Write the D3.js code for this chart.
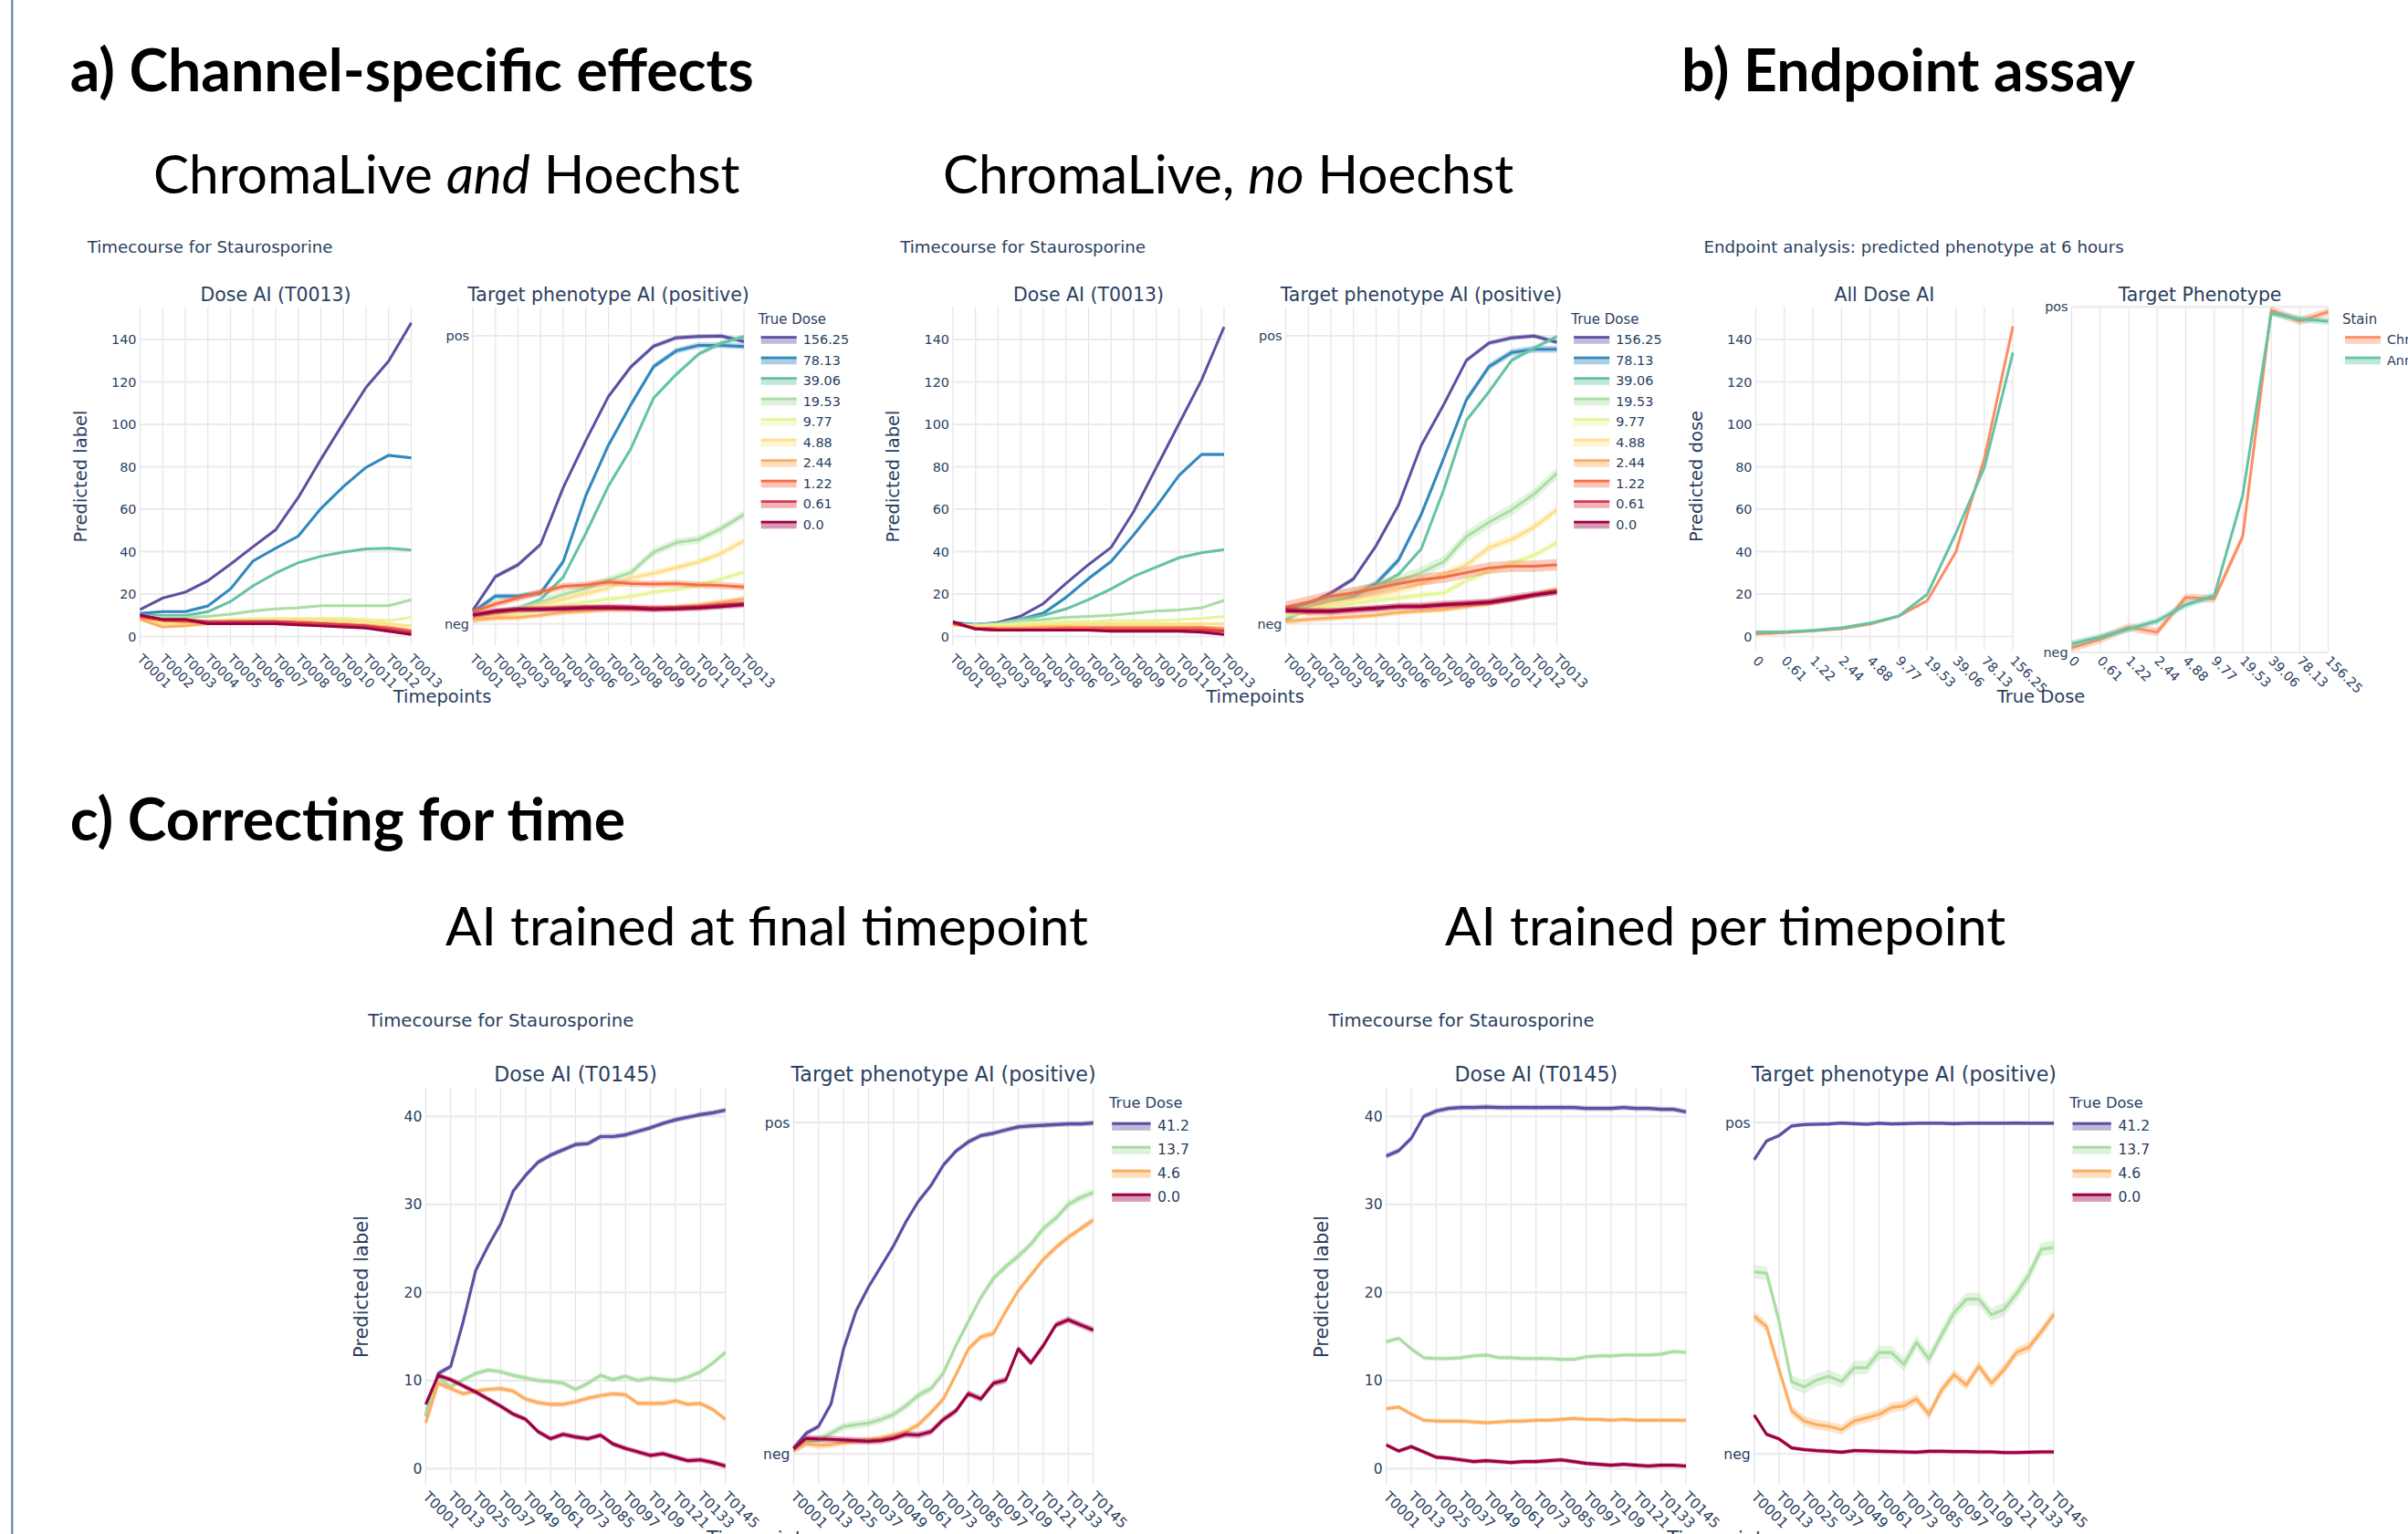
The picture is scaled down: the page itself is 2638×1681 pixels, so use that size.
<!DOCTYPE html>
<meta charset="utf-8">
<style>
  html, body { margin:0; padding:0; background:#fff; overflow:hidden; }
  svg { display:block; }
  .plot text { font-family: "DejaVu Sans", sans-serif; fill:#2a3f5f; }
  .head { font-family: Lato, sans-serif; fill:#000; }
</style>
<svg width="2638" height="1681"></svg>
<script src="https://d3js.org/d3.v7.min.js"></script>
<script>

// ---------- data: panel a (13 timepoints, 10 doses) ----------
var timesA = ["T0001","T0002","T0003","T0004","T0005","T0006","T0007","T0008","T0009","T0010","T0011","T0012","T0013"];
var dosesA = ["156.25","78.13","39.06","19.53","9.77","4.88","2.44","1.22","0.61","0.0"];
var colorsA = ["#5e4fa2","#3288bd","#66c2a5","#abdda4","#e6f598","#fee08b","#fdae61","#f46d43","#d53e4f","#9e0142"];

var a1Dose = [
  [12.7,18.1,20.9,26.3,34.1,42.3,50.3,65.5,83.5,100.7,117.4,129.8,147.8],
  [10.9,11.7,11.7,14.4,22.4,35.6,41.6,47.3,60.3,70.7,79.7,85.4,84.2],
  [9.9,9.9,9.9,11.7,16.5,23.9,29.9,34.8,37.8,39.8,41.3,41.6,40.8],
  [9.5,9,9,9.5,10.5,12,13,13.5,14.5,14.5,14.5,14.5,17.3],
  [9,7,7,7.5,8,8.5,8.5,8.5,8.5,8.5,8,7.5,9],
  [8,6,6,7,7.5,7.5,8,8,8,7.5,7,6,5],
  [8,4.5,5,6,6.5,7,7,7,6.5,6,5.5,4.5,3],
  [9,7.5,7,6.5,7,7,7,6.5,6,5.5,5,4,2.5],
  [10,8,8,7,7,7,7,6.5,6,5.5,5,3.5,2],
  [10,8,8,6,6,6,6,5.5,5,4.5,4,2.5,1]
];
var a1Target = [
  [.047,.164,.205,.276,.473,.636,.789,.893,.964,.993,.998,.999,.98],
  [.041,.096,.096,.107,.216,.445,.62,.762,.893,.948,.967,.967,.963],
  [.014,.041,.052,.085,.162,.314,.478,.609,.784,.866,.937,.975,.997],
  [.014,.036,.052,.074,.102,.123,.151,.178,.249,.282,.293,.331,.38],
  [.014,.025,.035,.05,.065,.075,.085,.095,.11,.12,.135,.155,.18],
  [.014,.03,.045,.065,.085,.105,.125,.16,.175,.195,.215,.245,.288],
  [.015,.02,.022,.03,.04,.045,.05,.05,.052,.058,.065,.075,.087],
  [.041,.069,.09,.11,.13,.135,.145,.14,.138,.14,.135,.133,.128],
  [.03,.04,.05,.052,.055,.058,.06,.058,.055,.055,.058,.065,.07],
  [.03,.045,.05,.05,.052,.055,.055,.054,.05,.052,.055,.06,.066]
];
var a2Dose = [
  [6.6,5.6,6.6,9.6,15.5,25,33.9,42,58.9,79.6,100.2,120.8,145.9],
  [5.9,5.6,5.9,8.1,11,18.4,27.3,35.4,47.9,61.2,75.9,85.8,85.8],
  [5.9,5.6,6.2,8.1,10,13,17.4,22.4,28.3,32.7,37.1,39.5,41],
  [5.5,5.5,6,7.5,8,9,9.5,10,11,12,12.5,13.5,17],
  [5.5,5,5.5,6,6.5,7,7,7.5,7.5,7.5,8,8.5,9.5],
  [5.5,4.5,4.5,5,5.5,5.5,6,6,6,6,6,6,6],
  [6,4,4,4,4.5,4.5,4.5,4.5,4.5,4.5,4.5,4.5,4],
  [6,4,3.5,3.5,3.5,4,4,4,4,4,4,4,3],
  [6.5,3.5,3,3,3,3,3,3,3,3,3,3,2.5],
  [7,3.5,3,3,3,3,3,2.5,2.5,2.5,2.5,2,1]
];
var a2Target = [
  [.014,.069,.107,.156,.271,.413,.62,.762,.915,.975,.993,.999,.978],
  [.052,.066,.08,.096,.14,.222,.38,.576,.778,.893,.942,.953,.953],
  [.014,.052,.074,.107,.129,.172,.26,.467,.707,.806,.915,.958,.997],
  [.036,.063,.085,.107,.129,.151,.178,.216,.303,.353,.396,.451,.522],
  [.03,.045,.06,.07,.08,.09,.1,.107,.15,.183,.21,.238,.282],
  [.035,.05,.07,.085,.1,.117,.139,.172,.205,.265,.293,.336,.396],
  [.009,.015,.02,.025,.03,.04,.045,.05,.06,.07,.085,.1,.12],
  [.058,.076,.096,.107,.123,.14,.153,.162,.178,.194,.2,.2,.205],
  [.052,.041,.041,.047,.052,.061,.063,.069,.072,.076,.091,.102,.112],
  [.045,.045,.045,.05,.055,.06,.06,.065,.07,.075,.085,.1,.11]
];
var ciA1Dose = [0.7,0.7,0.6,0.6,0.6,0.6,0.6,0.6,0.6,0.6];
var ciA1Target = [0.008,0.01,0.008,0.014,0.01,0.012,0.01,0.012,0.01,0.01];
var ciA2Dose = [0.6,0.9,0.6,0.6,0.6,0.6,0.6,0.6,0.6,0.6];
var ciA2Target = [0.008,0.012,0.008,0.02,0.012,0.015,0.01,0.02,0.012,0.01];

// ---------- data: panel b ----------
var dosesB = ["0","0.61","1.22","2.44","4.88","9.77","19.53","39.06","78.13","156.25"];
var stainsB = ["ChromaLive","Annexin V"];
var colorsB = ["#fc8d62","#66c2a5"];
var bDose = [
  [1.2,1.8,2.7,3.7,5.9,9.6,16.9,39.8,84,146.2],
  [2.2,2.2,2.9,4.1,6.3,9.6,19.9,48.6,79.6,133.8]
];
var bTarget = [
  [.014,.038,.073,.059,.159,.155,.336,.991,.959,.986],
  [.025,.045,.068,.091,.138,.164,.455,.982,.965,.959]
];
var ciBDose = [0.7,0.7];
var ciBTarget = [0.012,0.01];

// ---------- data: panel c (timepoints 1..145, every 6th) ----------
var timesC = [1,7,13,19,25,31,37,43,49,55,61,67,73,79,85,91,97,103,109,115,121,127,133,139,145];
var tickLabelsC = ["T0001","T0013","T0025","T0037","T0049","T0061","T0073","T0085","T0097","T0109","T0121","T0133","T0145"];
var dosesC = ["41.2","13.7","4.6","0.0"];
var colorsC = ["#5e4fa2","#abdda4","#fdae61","#9e0142"];

var c1Dose = [
  [6,10.8,11.6,16.7,22.5,25.3,27.8,31.5,33.3,34.8,35.6,36.2,36.8,36.9,37.7,37.7,37.9,38.3,38.7,39.2,39.6,39.9,40.2,40.4,40.7],
  [6,10.3,9.3,10.1,10.8,11.2,11,10.6,10.3,10,9.9,9.7,9,9.7,10.6,10.1,10.5,10,10.3,10.1,10,10.4,11,12,13.2],
  [5.2,9.7,9.1,8.5,8.8,9,9.1,8.8,7.9,7.5,7.3,7.3,7.6,8,8.3,8.5,8.4,7.4,7.4,7.4,7.7,7.3,7.4,6.7,5.6],
  [7.3,10.6,10.1,9.4,8.7,7.9,7.1,6.2,5.6,4.2,3.4,3.9,3.6,3.4,3.8,2.8,2.3,1.9,1.5,1.7,1.3,0.9,1,0.7,0.3]
];
var c1Target = [
  [.018,.062,.083,.151,.317,.431,.504,.566,.628,.701,.763,.81,.872,.914,.942,.961,.968,.978,.987,.99,.992,.994,.996,.996,.999],
  [.016,.036,.042,.062,.083,.088,.093,.104,.119,.145,.177,.197,.244,.327,.4,.472,.53,.566,.597,.633,.68,.711,.753,.774,.789],
  [.01,.031,.026,.028,.034,.038,.042,.047,.057,.067,.088,.125,.166,.239,.317,.353,.363,.431,.493,.54,.587,.623,.654,.68,.706],
  [.016,.047,.045,.044,.042,.04,.038,.04,.047,.059,.057,.067,.104,.13,.182,.166,.213,.223,.317,.275,.327,.389,.405,.389,.374]
];
var c2Dose = [
  [35.5,36.1,37.5,40,40.6,40.9,41,41,41.05,41,41,41,41,41,41,41,40.9,40.9,40.9,41,40.9,40.9,40.8,40.8,40.5],
  [14.4,14.8,13.6,12.6,12.5,12.5,12.6,12.8,12.9,12.6,12.6,12.5,12.5,12.5,12.4,12.4,12.7,12.8,12.8,12.9,12.9,12.9,13,13.3,13.2],
  [6.8,7,6.2,5.5,5.4,5.4,5.4,5.3,5.2,5.3,5.4,5.4,5.5,5.5,5.6,5.7,5.6,5.6,5.5,5.6,5.5,5.5,5.5,5.5,5.5],
  [2.7,2,2.5,1.9,1.3,1.2,1,0.8,0.9,0.8,0.7,0.8,0.8,0.9,1,0.8,0.6,0.5,0.4,0.5,0.4,0.3,0.4,0.4,0.3]
];
var c2Target = [
  [.888,.945,.961,.99,.994,.995,.996,.999,.997,.995,.998,.996,.997,.998,.998,.998,.997,.998,.998,.998,.998,.999,.998,.998,.998],
  [.55,.545,.4,.218,.202,.223,.234,.218,.26,.26,.306,.306,.27,.337,.286,.358,.426,.467,.467,.42,.436,.483,.54,.618,.623],
  [.415,.384,.254,.13,.099,.088,.083,.073,.099,.109,.119,.14,.145,.166,.119,.192,.239,.208,.265,.213,.254,.306,.322,.369,.421],
  [.117,.059,.045,.018,.013,.01,.008,.005,.01,.009,.008,.007,.006,.005,.008,.008,.007,.007,.006,.006,.004,.004,.005,.006,.006]
];
var ciC1Dose = [0.3,0.3,0.3,0.3];
var ciC1Target = [0.008,0.012,0.01,0.01];
var ciC2Dose = [0.3,0.25,0.25,0.25];
var ciC2Target = [0.006,0.02,0.015,0.006];

var doseTicksA = [0,20,40,60,80,100,120,140];
var doseTicksC = [0,10,20,30,40];
var phenoTicks = [[0,"neg"],[1,"pos"]];

// ---------- drawing helpers ----------
var svg = d3.select("svg");

function subplot(o) {
  var g = svg.append("g").attr("class", "plot");
  var xr = o.x.range(), fs = o.fs;
  g.append("g").selectAll("line").data(o.xTicks).join("line")
      .attr("x1", function(d) { return o.x(d[0]); })
      .attr("x2", function(d) { return o.x(d[0]); })
      .attr("y1", o.top).attr("y2", o.bottom)
      .attr("stroke", "#e4e4e4").attr("stroke-width", 1.2);
  g.append("g").selectAll("line").data(o.yTicks).join("line")
      .attr("x1", xr[0]).attr("x2", xr[1])
      .attr("y1", function(d) { return o.y(d[0]); })
      .attr("y2", function(d) { return o.y(d[0]); })
      .attr("stroke", "#ebebeb").attr("stroke-width", 2.2);
  g.append("g").selectAll("text").data(o.yTicks).join("text")
      .attr("x", xr[0] - 4)
      .attr("y", function(d) { return o.y(d[0]); })
      .attr("dy", "0.35em")
      .attr("text-anchor", "end")
      .style("font-size", fs + "px")
      .text(function(d) { return d[1]; });
  g.append("g").selectAll("text").data(o.xTicks).join("text")
      .attr("transform", function(d) { return "translate(" + (o.x(d[0]) - 4) + "," + o.labelY + ") rotate(45)"; })
      .style("font-size", fs + "px")
      .text(function(d) { return d[1]; });
  g.append("text")
      .attr("x", (xr[0] + xr[1]) / 2).attr("y", o.titleY)
      .attr("dy", "0.35em").attr("text-anchor", "middle")
      .style("font-size", (fs * 1.42) + "px")
      .text(o.title);
  return g;
}

function series(g, x, y, xs, rows, colors, ci, lw) {
  rows.forEach(function(row, i) {
    var pts = row.map(function(v, j) { return [xs[j], v]; });
    g.append("path")
        .attr("d", d3.area()
          .x(function(d) { return x(d[0]); })
          .y0(function(d) { return y(d[1] - ci[i]); })
          .y1(function(d) { return y(d[1] + ci[i]); })(pts))
        .attr("fill", colors[i]).attr("fill-opacity", 0.35);
    g.append("path")
        .attr("d", d3.line()
          .x(function(d) { return x(d[0]); })
          .y(function(d) { return y(d[1]); })(pts))
        .attr("fill", "none").attr("stroke", colors[i])
        .attr("stroke-width", lw).attr("stroke-linejoin", "round");
  });
}

function legend(x0, yTitle, y1, step, title, labels, colors, fs) {
  var k = fs / 14.4;
  var g = svg.append("g").attr("class", "plot");
  g.append("text").attr("x", x0).attr("y", yTitle).attr("dy", "0.35em")
      .style("font-size", (fs * 1.04) + "px").text(title);
  var it = g.selectAll("g").data(labels).join("g")
      .attr("transform", function(d, i) { return "translate(0," + (y1 + i * step) + ")"; });
  it.append("rect").attr("x", x0 + 3 * k).attr("y", -4 * k)
      .attr("width", 39 * k).attr("height", 8.5 * k)
      .attr("fill", function(d, i) { return colors[i]; }).attr("fill-opacity", 0.4);
  it.append("line").attr("x1", x0 + 3 * k).attr("x2", x0 + 42 * k)
      .attr("y1", -2.6 * k).attr("y2", -2.6 * k)
      .attr("stroke", function(d, i) { return colors[i]; }).attr("stroke-width", 2.8 * k);
  it.append("text").attr("x", x0 + 49 * k).attr("dy", "0.35em")
      .style("font-size", fs + "px").text(function(d) { return d; });
}

function label(x, y, txt, fs, rot, anchor) {
  svg.append("g").attr("class", "plot").append("text")
      .attr("transform", "translate(" + x + "," + y + ")" + (rot ? " rotate(-90)" : ""))
      .attr("dy", "0.35em").attr("text-anchor", anchor || "middle")
      .style("font-size", fs + "px").text(txt);
}

// ---------- panel a ----------
function panelA(dx, doseRows, targetRows, ciD, ciT) {
  var fs = 14.4;
  var xD = d3.scalePoint().domain(timesA).range([153.5 + dx, 450.5 + dx]);
  var xT = d3.scalePoint().domain(timesA).range([518 + dx, 815 + dx]);
  var yD = d3.scaleLinear().domain([0, 140]).range([697.5, 372]);
  var yT = d3.scaleLinear().domain([0, 1]).range([683.6, 368]);
  var xt = timesA.map(function(t) { return [t, t]; });
  var gD = subplot({x: xD, y: yD, xTicks: xt, yTicks: doseTicksA.map(function(v) { return [v, String(v)]; }),
    top: 336, bottom: 708, labelY: 723, titleY: 322.7, title: "Dose AI (T0013)", fs: fs});
  series(gD, xD, yD, timesA, doseRows, colorsA, ciD, 3);
  var gT = subplot({x: xT, y: yT, xTicks: xt, yTicks: phenoTicks,
    top: 336, bottom: 708, labelY: 723, titleY: 322.7, title: "Target phenotype AI (positive)", fs: fs});
  series(gT, xT, yT, timesA, targetRows, colorsA, ciT, 3);
  label(95.7 + dx, 271, "Timecourse for Staurosporine", 18.2, false, "start");
  label(88 + dx, 522, "Predicted label", 19.5, true);
  label(484.5 + dx, 763.5, "Timepoints", 19.5);
  legend(830.7 + dx, 350, 372.3, 22.5, "True Dose", dosesA, colorsA, fs);
}
panelA(0, a1Dose, a1Target, ciA1Dose, ciA1Target);
panelA(890.5, a2Dose, a2Target, ciA2Dose, ciA2Target);

// ---------- panel b ----------
(function() {
  var fs = 14.4;
  var xD = d3.scalePoint().domain(dosesB).range([1923.5, 2205.2]);
  var xT = d3.scalePoint().domain(dosesB).range([2269.6, 2550.6]);
  var yD = d3.scaleLinear().domain([0, 140]).range([697.5, 372]);
  var yT = d3.scaleLinear().domain([0, 1]).range([715, 336.4]);
  var xt = dosesB.map(function(t) { return [t, t]; });
  var gD = subplot({x: xD, y: yD, xTicks: xt, yTicks: doseTicksA.map(function(v) { return [v, String(v)]; }),
    top: 336, bottom: 712, labelY: 725, titleY: 322.7, title: "All Dose AI", fs: fs});
  series(gD, xD, yD, dosesB, bDose, colorsB, ciBDose, 3);
  var gT = subplot({x: xT, y: yT, xTicks: xt, yTicks: phenoTicks,
    top: 336, bottom: 715, labelY: 725, titleY: 322.7, title: "Target Phenotype", fs: fs});
  series(gT, xT, yT, dosesB, bTarget, colorsB, ciBTarget, 3);
  label(1866.4, 271, "Endpoint analysis: predicted phenotype at 6 hours", 18.2, false, "start");
  label(1858, 522, "Predicted dose", 19.5, true);
  label(2236, 763.5, "True Dose", 19.5);
  legend(2566, 350, 372.3, 22.5, "Stain", stainsB, colorsB, fs);
})();

// ---------- panel c ----------
function panelC(dx, doseRows, targetRows, ciD, ciT) {
  var fs = 15.6;
  var xD = d3.scaleLinear().domain([1, 145]).range([466.4 + dx, 794.7 + dx]);
  var xT = d3.scaleLinear().domain([1, 145]).range([869.4 + dx, 1197.7 + dx]);
  var yD = d3.scaleLinear().domain([0, 40]).range([1609.4, 1223.3]);
  var yT = d3.scaleLinear().domain([0, 1]).range([1593.2, 1230.2]);
  var xt = tickLabelsC.map(function(t) { return [+t.slice(1), t]; });
  var gD = subplot({x: xD, y: yD, xTicks: xt, yTicks: doseTicksC.map(function(v) { return [v, String(v)]; }),
    top: 1192, bottom: 1627, labelY: 1641, titleY: 1177.4, title: "Dose AI (T0145)", fs: fs});
  series(gD, xD, yD, timesC, doseRows, colorsC, ciD, 3.2);
  var gT = subplot({x: xT, y: yT, xTicks: xt, yTicks: phenoTicks,
    top: 1192, bottom: 1627, labelY: 1641, titleY: 1177.4, title: "Target phenotype AI (positive)", fs: fs});
  series(gT, xT, yT, timesC, targetRows, colorsC, ciT, 3.2);
  label(403.3 + dx, 1118.3, "Timecourse for Staurosporine", 19.7, false, "start");
  label(395.8 + dx, 1410, "Predicted label", 21, true);
  label(832 + dx, 1686, "Timepoints", 21);
  legend(1215 + dx, 1208, 1234, 26, "True Dose", dosesC, colorsC, fs);
}
panelC(0, c1Dose, c1Target, ciC1Dose, ciC1Target);
panelC(1052.3, c2Dose, c2Target, ciC2Dose, ciC2Target);

// ---------- headings ----------
svg.append("line").attr("x1", 13.3).attr("x2", 13.3).attr("y1", 0).attr("y2", 1681)
    .attr("stroke", "#5877a8").attr("stroke-width", 2);

function head(x, y, size, weight, parts) {
  var t = svg.append("text").attr("class", "head").attr("x", x).attr("y", y)
      .style("font-size", size + "px").style("font-weight", weight);
  parts.forEach(function(p) {
    t.append("tspan").style("font-style", p[1] ? "italic" : "normal").text(p[0]);
  });
}
head(76.7, 100, 64.3, 700, [["a) Channel-specific effects"]]);
head(1842, 100, 64.3, 700, [["b) Endpoint assay"]]);
head(76.7, 921, 64.3, 700, [["c) Correcting for time"]]);
head(168, 212, 58.5, 400, [["ChromaLive "], ["and", true], [" Hoechst"]]);
head(1033, 212, 58.5, 400, [["ChromaLive, "], ["no", true], [" Hoechst"]]);
head(488, 1036, 58.5, 400, [["AI trained at final timepoint"]]);
head(1583, 1036, 58.5, 400, [["AI trained per timepoint"]]);

</script>
